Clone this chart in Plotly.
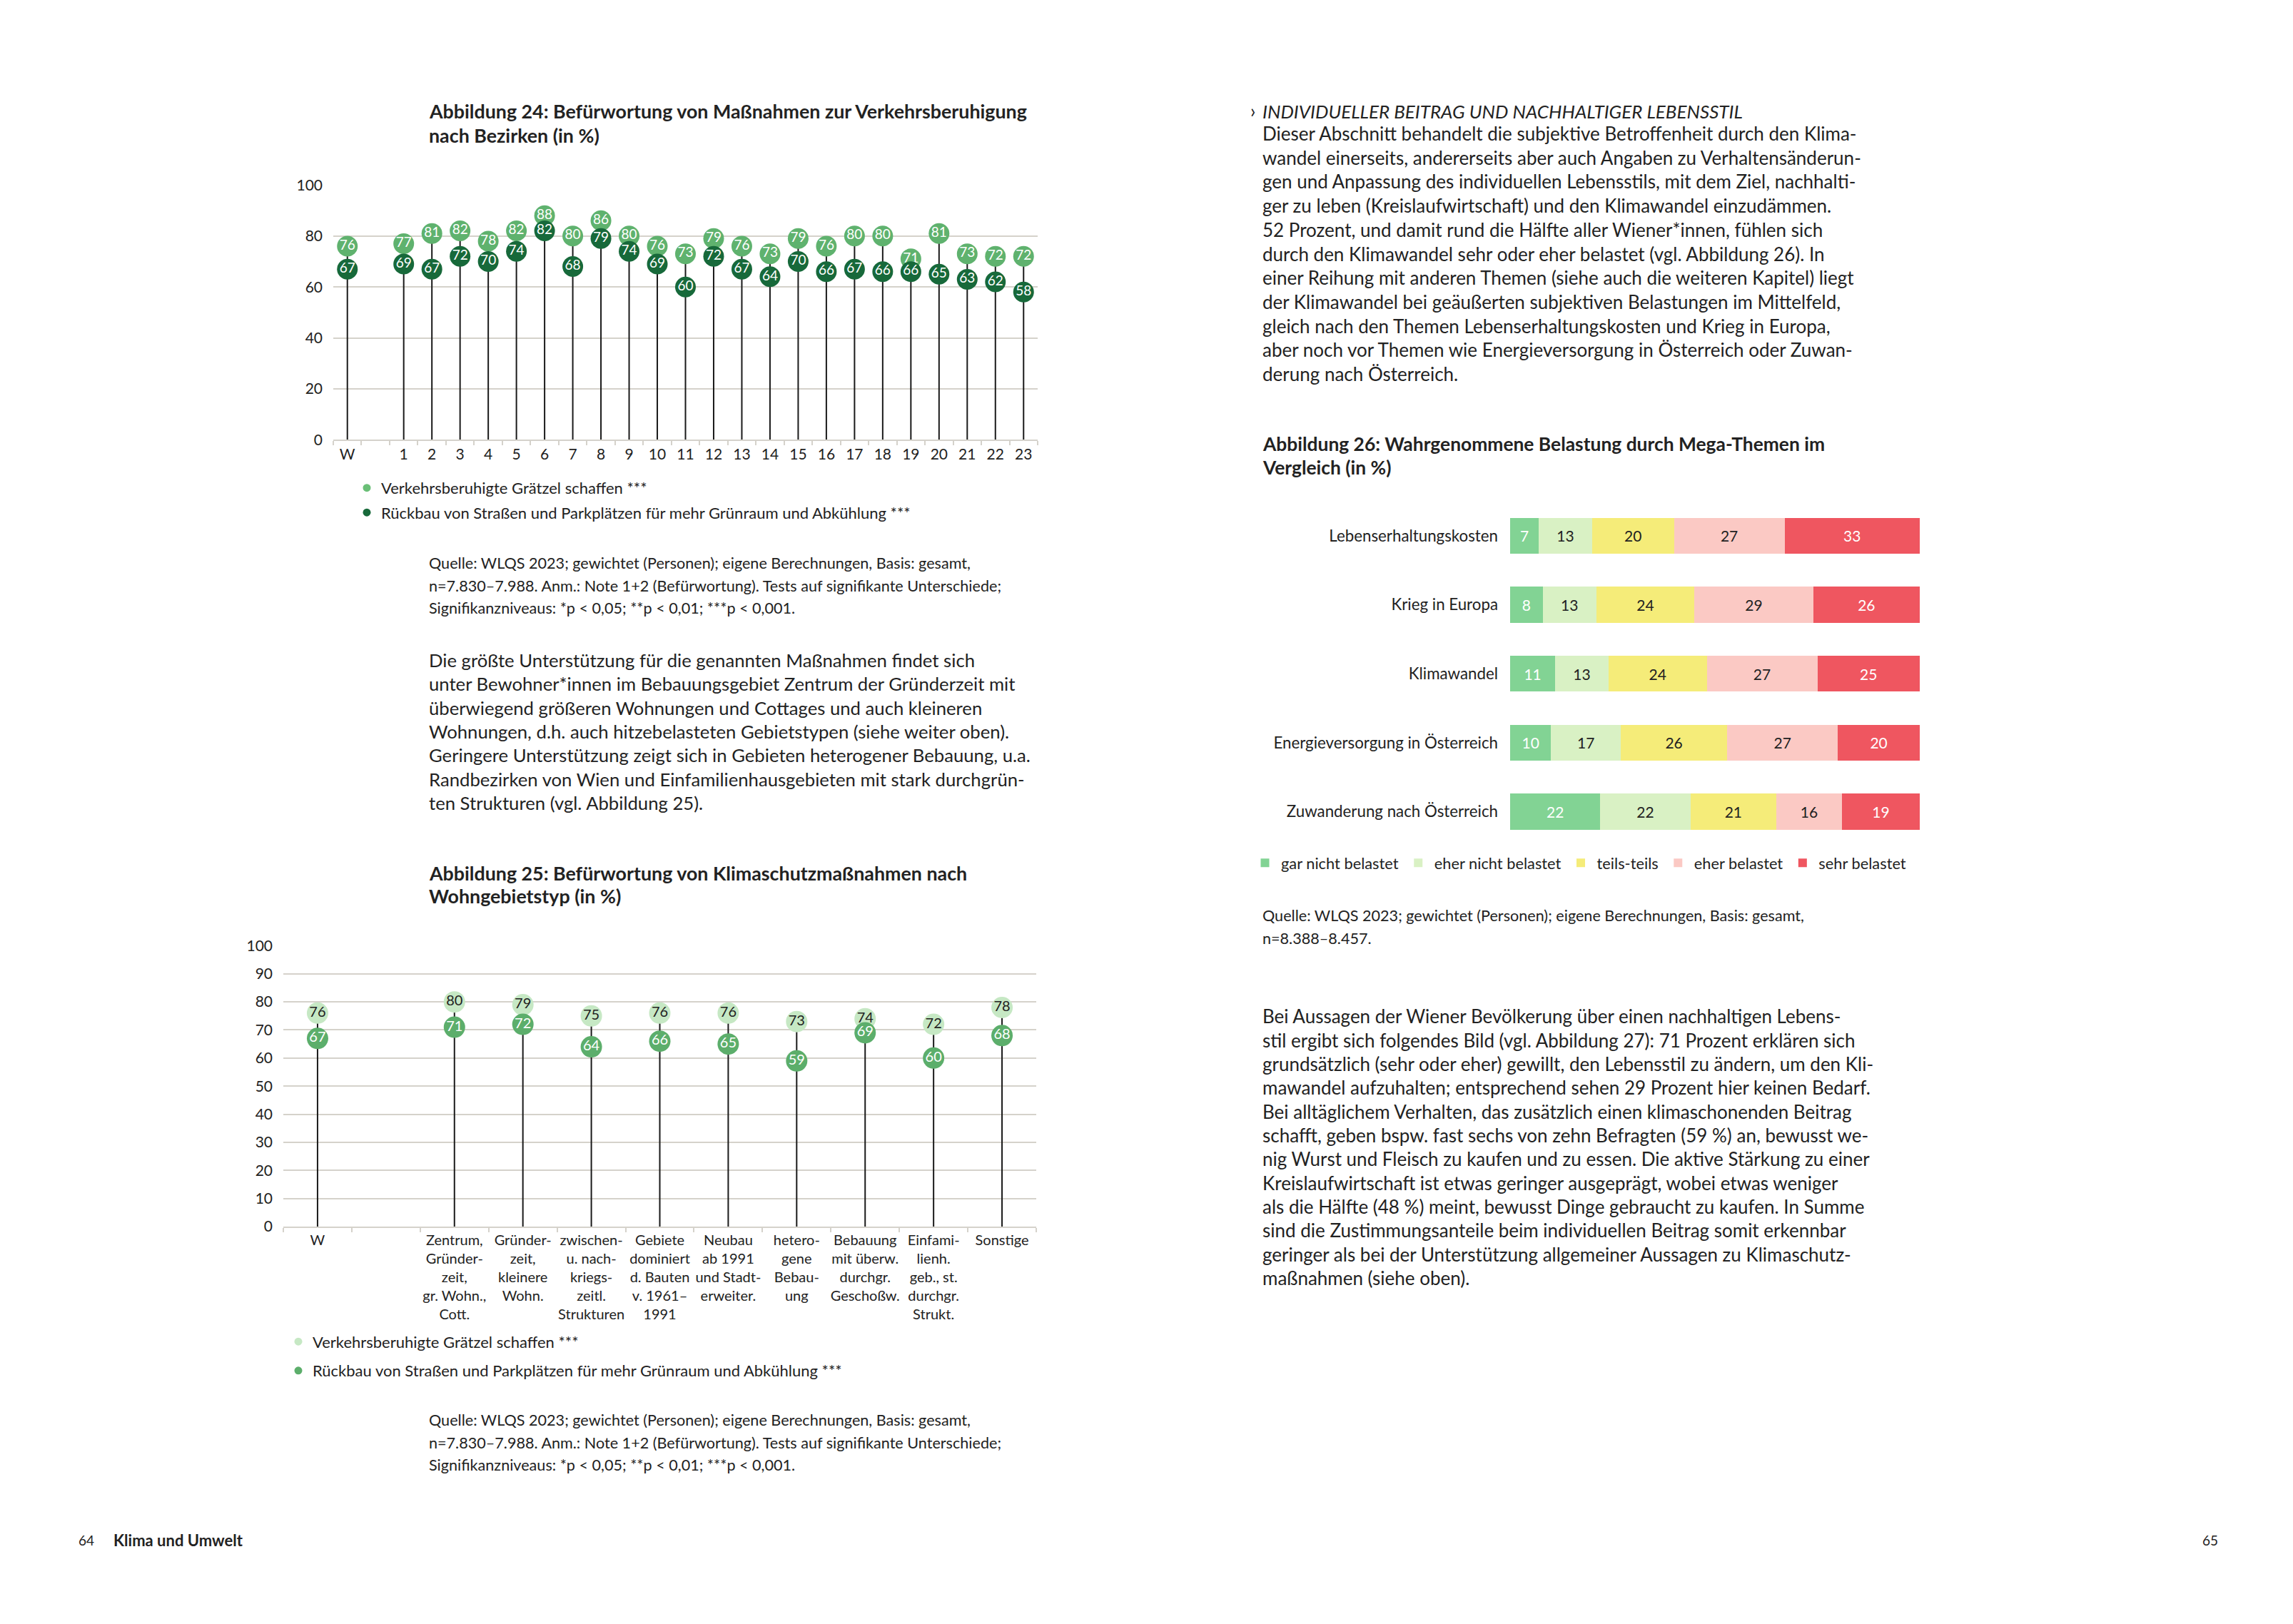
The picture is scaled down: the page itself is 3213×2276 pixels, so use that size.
import plotly.graph_objects as go

# ---------------- DATA ----------------
# Abbildung 24
bez_categories = ["W", " ", "1", "2", "3", "4", "5", "6", "7", "8", "9", "10", "11", "12",
                  "13", "14", "15", "16", "17", "18", "19", "20", "21", "22", "23"]
bez_labels = ["W", "1", "2", "3", "4", "5", "6", "7", "8", "9", "10", "11", "12",
              "13", "14", "15", "16", "17", "18", "19", "20", "21", "22", "23"]
bez_graetzel = [76, 77, 81, 82, 78, 82, 88, 80, 86, 80, 76, 73, 79, 76, 73, 79, 76, 80, 80, 71, 81, 73, 72, 72]
bez_rueckbau = [67, 69, 67, 72, 70, 74, 82, 68, 79, 74, 69, 60, 72, 67, 64, 70, 66, 67, 66, 66, 65, 63, 62, 58]

# Abbildung 25
typ_labels = ["W",
              "Zentrum,<br>Gründer-<br>zeit,<br>gr. Wohn.,<br>Cott.",
              "Gründer-<br>zeit,<br>kleinere<br>Wohn.",
              "zwischen-<br>u. nach-<br>kriegs-<br>zeitl.<br>Strukturen",
              "Gebiete<br>dominiert<br>d. Bauten<br>v. 1961–<br>1991",
              "Neubau<br>ab 1991<br>und Stadt-<br>erweiter.",
              "hetero-<br>gene<br>Bebau-<br>ung",
              "Bebauung<br>mit überw.<br>durchgr.<br>Geschoßw.",
              "Einfami-<br>lienh.<br>geb., st.<br>durchgr.<br>Strukt.",
              "Sonstige"]
typ_categories = [typ_labels[0], "  "] + typ_labels[1:]
typ_graetzel = [76, 80, 79, 75, 76, 76, 73, 74, 72, 78]
typ_rueckbau = [67, 71, 72, 64, 66, 65, 59, 69, 60, 68]

# Abbildung 26
themen = ["Lebenserhaltungskosten", "Krieg in Europa", "Klimawandel",
          "Energieversorgung in Österreich", "Zuwanderung nach Österreich"]
stufen = ["gar nicht belastet", "eher nicht belastet", "teils-teils", "eher belastet", "sehr belastet"]
gar_nicht = [7, 8, 11, 10, 22]
eher_nicht = [13, 13, 13, 17, 22]
teils = [20, 24, 24, 26, 21]
eher = [27, 29, 27, 27, 16]
sehr = [33, 26, 25, 20, 19]

# ---------------- LAYOUT HELPERS ----------------
W_FIG, H_FIG = 3197, 2258
FONT = "Lato"
TXT = "#222222"
GRID = "#d5d2cb"


def X(rx):
    return (rx - 8) / W_FIG


def Y(ry):
    return 1 - (ry - 8) / H_FIG


fig = go.Figure()

# ---------------- Abbildung 24 ----------------
c24_light, c24_dark = "#5fb26e", "#17693a"
stem_x, stem_y = [], []
for lab, a, b in zip(bez_labels, bez_graetzel, bez_rueckbau):
    stem_x += [lab, lab, None]
    stem_y += [0, max(a, b), None]
fig.add_trace(go.Scatter(x=stem_x, y=stem_y, mode="lines", line=dict(color="#1a1a1a", width=2),
                         xaxis="x", yaxis="y", showlegend=False, hoverinfo="skip"))
fig.add_trace(go.Scatter(x=bez_labels, y=bez_graetzel, mode="markers+text", text=bez_graetzel,
                         textposition="middle center",
                         textfont=dict(family=FONT, size=19, color="white"),
                         marker=dict(size=29, color=c24_light), xaxis="x", yaxis="y", showlegend=False))
fig.add_trace(go.Scatter(x=bez_labels, y=bez_rueckbau, mode="markers+text", text=bez_rueckbau,
                         textposition="middle center",
                         textfont=dict(family=FONT, size=19, color="white"),
                         marker=dict(size=29, color=c24_dark), xaxis="x", yaxis="y", showlegend=False))
fig.add_trace(go.Scatter(x=[None], y=[None], mode="markers", marker=dict(size=11, color="#6abf77"),
                         name="Verkehrsberuhigte Grätzel schaffen ***", legend="legend",
                         legendgroup="a", xaxis="x", yaxis="y"))
fig.add_trace(go.Scatter(x=[None], y=[None], mode="markers", marker=dict(size=11, color=c24_dark),
                         name="Rückbau von Straßen und Parkplätzen für mehr Grünraum und Abkühlung ***",
                         legend="legend", legendgroup="b", xaxis="x", yaxis="y"))

# ---------------- Abbildung 25 ----------------
c25_light, c25_dark = "#c6e8c4", "#5cae6b"
stem_x2, stem_y2 = [], []
for lab, a, b in zip(typ_labels, typ_graetzel, typ_rueckbau):
    stem_x2 += [lab, lab, None]
    stem_y2 += [0, max(a, b), None]
fig.add_trace(go.Scatter(x=stem_x2, y=stem_y2, mode="lines", line=dict(color="#1a1a1a", width=2),
                         xaxis="x2", yaxis="y2", showlegend=False, hoverinfo="skip"))
fig.add_trace(go.Scatter(x=typ_labels, y=typ_graetzel, mode="markers+text", text=typ_graetzel,
                         textposition="middle center",
                         textfont=dict(family=FONT, size=20, color=TXT),
                         marker=dict(size=30, color=c25_light), xaxis="x2", yaxis="y2", showlegend=False))
fig.add_trace(go.Scatter(x=typ_labels, y=typ_rueckbau, mode="markers+text", text=typ_rueckbau,
                         textposition="middle center",
                         textfont=dict(family=FONT, size=20, color="white"),
                         marker=dict(size=30, color=c25_dark), xaxis="x2", yaxis="y2", showlegend=False))
fig.add_trace(go.Scatter(x=[None], y=[None], mode="markers", marker=dict(size=11, color=c25_light),
                         name="Verkehrsberuhigte Grätzel schaffen ***", legend="legend2",
                         legendgroup="c", xaxis="x2", yaxis="y2"))
fig.add_trace(go.Scatter(x=[None], y=[None], mode="markers", marker=dict(size=11, color=c25_dark),
                         name="Rückbau von Straßen und Parkplätzen für mehr Grünraum und Abkühlung ***",
                         legend="legend2", legendgroup="d", xaxis="x2", yaxis="y2"))

# ---------------- Abbildung 26 ----------------
seg_vals = [gar_nicht, eher_nicht, teils, eher, sehr]
seg_cols = ["#82d394", "#d9f1c4", "#f5ec79", "#fbc9c4", "#ef5660"]
seg_txt = ["white", TXT, TXT, TXT, "white"]
for name, vals, col, tc in zip(stufen, seg_vals, seg_cols, seg_txt):
    fig.add_trace(go.Bar(y=themen, x=vals, orientation="h", name=name, marker=dict(color=col, line=dict(width=0)),
                         width=0.52, text=vals, texttemplate="%{x}", textposition="inside",
                         insidetextanchor="middle", textangle=0,
                         textfont=dict(family=FONT, size=21, color=tc),
                         xaxis="x3", yaxis="y3", legend="legend3"))

# ---------------- AXES ----------------
ax_common = dict(showgrid=False, zeroline=False, fixedrange=True)
fig.update_layout(
    xaxis=dict(domain=[X(467), X(1454)], anchor="y", type="category", categoryorder="array",
               categoryarray=bez_categories, range=[-0.5, 24.5], tickson="boundaries",
               ticks="outside", ticklen=6, tickwidth=2, tickcolor=GRID, showline=True, tickangle=0,
               linecolor=GRID, linewidth=2, tickfont=dict(family=FONT, size=21, color=TXT), **ax_common),
    yaxis=dict(domain=[Y(609), Y(248)], anchor="x", range=[0, 100], tickvals=[0, 20, 40, 60, 80, 100],
               showgrid=True, gridcolor=GRID, gridwidth=2, zeroline=False, ticks="",
               ticklabelstandoff=14, tickfont=dict(family=FONT, size=21, color=TXT), fixedrange=True),
    xaxis2=dict(domain=[X(397), X(1452)], anchor="y2", type="category", categoryorder="array",
                categoryarray=typ_categories, range=[-0.5, 10.5], tickson="boundaries",
                ticks="outside", ticklen=6, tickwidth=2, tickcolor=GRID, showline=True, tickangle=0,
                linecolor=GRID, linewidth=2, tickfont=dict(family=FONT, size=20, color=TXT), **ax_common),
    yaxis2=dict(domain=[Y(1724), Y(1326)], anchor="x2", range=[0, 100], tickvals=list(range(0, 101, 10)),
                showgrid=True, gridcolor=GRID, gridwidth=2, zeroline=False, ticks="",
                ticklabelstandoff=14, tickfont=dict(family=FONT, size=21, color=TXT), fixedrange=True),
    xaxis3=dict(domain=[X(2116), X(2690)], anchor="y3", range=[0, 100], visible=False, **ax_common),
    yaxis3=dict(domain=[Y(1185), Y(696)], anchor="x3", type="category", categoryorder="array",
                categoryarray=themen[::-1], ticks="", ticklabelstandoff=16, showline=False,
                tickfont=dict(family=FONT, size=22.3, color=TXT), **ax_common),
)

# ---------------- LEGENDS ----------------
fig.update_layout(
    legend=dict(x=X(494), y=Y(656), xanchor="left", yanchor="top", orientation="v",
                font=dict(family=FONT, size=22, color=TXT), bgcolor="rgba(0,0,0,0)",
                traceorder="grouped", tracegroupgap=3, itemwidth=30),
    legend2=dict(x=X(398), y=Y(1866), xanchor="left", yanchor="top", orientation="v",
                 font=dict(family=FONT, size=22, color=TXT), bgcolor="rgba(0,0,0,0)",
                 traceorder="grouped", tracegroupgap=9, itemwidth=30),
    legend3=dict(x=X(1750), y=Y(1209), xanchor="left", yanchor="middle", orientation="h",
                 font=dict(family=FONT, size=21.8, color=TXT), bgcolor="rgba(0,0,0,0)",
                 traceorder="normal", itemwidth=35),
)

# ---------------- TEXT ----------------
ann = []


def add_lines(lines, rx, ry0, dy, size, bold=False, italic=False, color=TXT, xanchor="left"):
    for i, line in enumerate(lines):
        t = line
        if bold:
            t = "<b>" + t + "</b>"
        if italic:
            t = "<i>" + t + "</i>"
        ann.append(dict(text=t, x=X(rx), y=Y(ry0 + i * dy), xref="paper", yref="paper",
                        xanchor=xanchor, yanchor="middle", showarrow=False, align="left",
                        font=dict(family=FONT, size=size, color=color)))


title24 = ["Abbildung 24: Befürwortung von Maßnahmen zur Verkehrsberuhigung", "nach Bezirken (in %)"]
title25 = ["Abbildung 25: Befürwortung von Klimaschutzmaßnahmen nach", "Wohngebietstyp (in %)"]
title26 = ["Abbildung 26: Wahrgenommene Belastung durch Mega-Themen im", "Vergleich (in %)"]
quelle_24_25 = ["Quelle: WLQS 2023; gewichtet (Personen); eigene Berechnungen, Basis: gesamt,",
                "n=7.830–7.988. Anm.: Note 1+2 (Befürwortung). Tests auf signifikante Unterschiede;",
                "Signifikanzniveaus: *p < 0,05; **p < 0,01; ***p < 0,001."]
quelle_26 = ["Quelle: WLQS 2023; gewichtet (Personen); eigene Berechnungen, Basis: gesamt,",
             "n=8.388–8.457."]
para_left = ["Die größte Unterstützung für die genannten Maßnahmen findet sich",
             "unter Bewohner*innen im Bebauungsgebiet Zentrum der Gründerzeit mit",
             "überwiegend größeren Wohnungen und Cottages und auch kleineren",
             "Wohnungen, d.h. auch hitzebelasteten Gebietstypen (siehe weiter oben).",
             "Geringere Unterstützung zeigt sich in Gebieten heterogener Bebauung, u.a.",
             "Randbezirken von Wien und Einfamilienhausgebieten mit stark durchgrün-",
             "ten Strukturen (vgl. Abbildung 25)."]
para_right1 = ["Dieser Abschnitt behandelt die subjektive Betroffenheit durch den Klima-",
               "wandel einerseits, andererseits aber auch Angaben zu Verhaltensänderun-",
               "gen und Anpassung des individuellen Lebensstils, mit dem Ziel, nachhalti-",
               "ger zu leben (Kreislaufwirtschaft) und den Klimawandel einzudämmen.",
               "52 Prozent, und damit rund die Hälfte aller Wiener*innen, fühlen sich",
               "durch den Klimawandel sehr oder eher belastet (vgl. Abbildung 26). In",
               "einer Reihung mit anderen Themen (siehe auch die weiteren Kapitel) liegt",
               "der Klimawandel bei geäußerten subjektiven Belastungen im Mittelfeld,",
               "gleich nach den Themen Lebenserhaltungskosten und Krieg in Europa,",
               "aber noch vor Themen wie Energieversorgung in Österreich oder Zuwan-",
               "derung nach Österreich."]
para_right2 = ["Bei Aussagen der Wiener Bevölkerung über einen nachhaltigen Lebens-",
               "stil ergibt sich folgendes Bild (vgl. Abbildung 27): 71 Prozent erklären sich",
               "grundsätzlich (sehr oder eher) gewillt, den Lebensstil zu ändern, um den Kli-",
               "mawandel aufzuhalten; entsprechend sehen 29 Prozent hier keinen Bedarf.",
               "Bei alltäglichem Verhalten, das zusätzlich einen klimaschonenden Beitrag",
               "schafft, geben bspw. fast sechs von zehn Befragten (59 %) an, bewusst we-",
               "nig Wurst und Fleisch zu kaufen und zu essen. Die aktive Stärkung zu einer",
               "Kreislaufwirtschaft ist etwas geringer ausgeprägt, wobei etwas weniger",
               "als die Hälfte (48 %) meint, bewusst Dinge gebraucht zu kaufen. In Summe",
               "sind die Zustimmungsanteile beim individuellen Beitrag somit erkennbar",
               "geringer als bei der Unterstützung allgemeiner Aussagen zu Klimaschutz-",
               "maßnahmen (siehe oben)."]

add_lines(title24, 599, 144, 33.5, 26.8, bold=True)
add_lines(quelle_24_25, 599, 784, 31.5, 21.6)
add_lines(para_left, 599, 921, 33.7, 25.7)
add_lines(title25, 599, 1223, 33, 26.8, bold=True)
add_lines(quelle_24_25, 599, 1998, 32, 21.6)

add_lines(["›"], 1750, 142, 0, 26)
add_lines(["INDIVIDUELLER BEITRAG UND NACHHALTIGER LEBENSSTIL"], 1767, 144, 0, 26, italic=True)
add_lines(para_right1, 1767, 175, 34.05, 26)
add_lines(title26, 1767, 615, 33, 26.4, bold=True)
add_lines(quelle_26, 1767, 1283, 32, 21.6)
add_lines(para_right2, 1767, 1426, 33.7, 26)

add_lines(["64"], 108, 2168, 0, 19)
add_lines(["Klima und Umwelt"], 157, 2168, 0, 22, bold=True)
add_lines(["65"], 3110, 2168, 0, 19, xanchor="right")

fig.update_layout(
    annotations=ann,
    width=W_FIG, height=H_FIG,
    margin=dict(l=0, r=0, t=0, b=0),
    paper_bgcolor="white", plot_bgcolor="white",
    barmode="stack", bargap=0.48,
    font=dict(family=FONT, color=TXT),
    showlegend=True,
)

fig.write_html("out.html")
